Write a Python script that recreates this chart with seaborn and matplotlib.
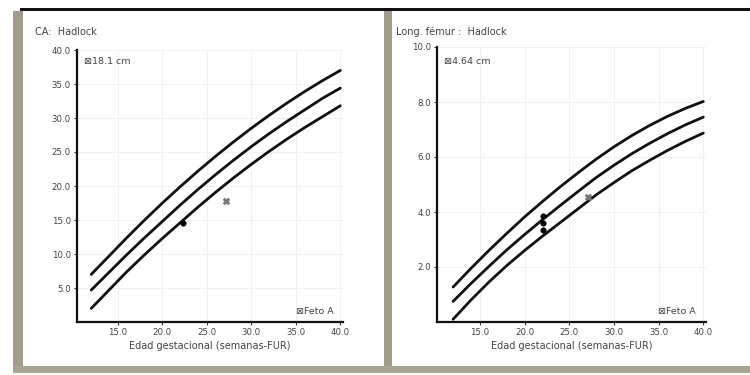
import matplotlib
matplotlib.use('Agg')
import matplotlib.pyplot as plt
from matplotlib.patches import Rectangle
import pandas as pd
import seaborn as sns

# Growth curves (weeks -> cm)
weeks = [12, 14, 16, 18, 20, 22, 24, 26, 28, 30, 32, 34, 36, 38, 40]

ac_hi = [7.0, 9.7, 12.4, 15.0, 17.5, 19.9, 22.2, 24.4, 26.5, 28.5, 30.4, 32.2, 33.9, 35.5, 37.0]
ac_mid = [4.7, 7.3, 9.9, 12.4, 14.8, 17.2, 19.5, 21.7, 23.8, 25.8, 27.7, 29.5, 31.2, 32.9, 34.4]
ac_lo = [2.0, 4.7, 7.4, 9.9, 12.3, 14.6, 16.9, 19.1, 21.2, 23.2, 25.1, 26.9, 28.6, 30.2, 31.8]

fl_hi = [1.27, 1.95, 2.60, 3.22, 3.82, 4.38, 4.92, 5.43, 5.92, 6.37, 6.78, 7.15, 7.48, 7.77, 8.02]
fl_mid = [0.75, 1.40, 2.02, 2.62, 3.18, 3.72, 4.24, 4.75, 5.25, 5.70, 6.12, 6.50, 6.85, 7.17, 7.45]
fl_lo = [0.10, 0.80, 1.45, 2.05, 2.60, 3.12, 3.62, 4.12, 4.62, 5.07, 5.50, 5.88, 6.24, 6.57, 6.87]

# measurements (previous exams = black, current = grey cross)
ac_prev_wk = [22.3]
ac_prev_val = [14.6]
ac_cur_wk = [27.2]
ac_cur_val = [17.8]

fl_prev_wk = [22.1, 22.1, 22.1]
fl_prev_val = [3.85, 3.6, 3.35]
fl_cur_wk = [27.1]
fl_cur_val = [4.55]

x_ticks = [15, 20, 25, 30, 35, 40]
ac_ticks = [5, 10, 15, 20, 25, 30, 35, 40]
fl_ticks = [2, 4, 6, 8, 10]

sns.set_style("white")
plt.rcParams['font.family'] = ['DejaVu Sans']

W, H = 750, 375
fig = plt.figure(figsize=(7.5, 3.75), dpi=100)
fig.patch.set_facecolor('white')


def rect(x0, y0, x1, y1, color):
    fig.add_artist(Rectangle((x0 / W, 1 - y1 / H), (x1 - x0) / W, (y1 - y0) / H,
                             transform=fig.transFigure, color=color, lw=0, zorder=0))


# window frame
rect(13, 11, 23, 373, '#a09e8a')
rect(384, 11, 392, 373, '#a09e8a')
rect(13, 366, 750, 373, '#a8a692')
rect(20, 8, 750, 11, '#111111')


def make_panel(left, right, top, bottom, xlim, ylim, yticks, curves, prev, cur,
               title, tag, tx, legx):
    ax = fig.add_axes([left / W, 1 - bottom / H, (right - left) / W, (bottom - top) / H])
    ax.set_facecolor('white')
    ax.patch.set_alpha(0)
    df = pd.DataFrame({'week': weeks * 3,
                       'val': curves[0] + curves[1] + curves[2],
                       'band': ['hi'] * len(weeks) + ['mid'] * len(weeks) + ['lo'] * len(weeks)})
    sns.lineplot(data=df, x='week', y='val', units='band', estimator=None,
                 color='#111111', lw=2.0, ax=ax, zorder=3)
    sns.scatterplot(x=prev[0], y=prev[1], color='black', s=16, marker='o',
                    edgecolor='black', ax=ax, zorder=4)
    sns.scatterplot(x=cur[0], y=cur[1], color='#777777', s=24, marker='X',
                    edgecolor='#777777', ax=ax, zorder=4)
    ax.set_xlim(*xlim)
    ax.set_ylim(*ylim)
    ax.set_xticks(x_ticks)
    ax.set_xticklabels([f"{t:.1f}" for t in x_ticks])
    ax.set_yticks(yticks)
    ax.set_yticklabels([f"{t:.1f}" for t in yticks])
    ax.tick_params(labelsize=6.2, length=2.5, width=0.8, color='#333333',
                   labelcolor='#444444', pad=2, direction='out', left=True, bottom=True)
    ax.grid(True, color='#f1f1f1', lw=0.8)
    for s in ['top', 'right']:
        ax.spines[s].set_visible(False)
    for s in ['left', 'bottom']:
        ax.spines[s].set_color('#111111')
        ax.spines[s].set_linewidth(1.6)
    ax.set_xlabel('Edad gestacional (semanas-FUR)', fontsize=7, color='#444444', labelpad=3)
    ax.set_ylabel('')
    fig.text(tx / W, 1 - 32 / H, title, fontsize=7, color='#444444', va='center')
    fig.text((left + 7) / W, 1 - 61 / H, '\u22a0' + tag, fontsize=6.8, color='#444444', va='center')
    fig.text(legx / W, 1 - 312 / H, '\u22a0Feto A', fontsize=6.8, color='#444444', va='center')
    return ax


make_panel(77, 343, 50, 322, (10.4, 40.3), (0, 40), ac_ticks,
           [ac_hi, ac_mid, ac_lo], (ac_prev_wk, ac_prev_val), (ac_cur_wk, ac_cur_val),
           'CA:  Hadlock', '18.1 cm', 35, 296)
make_panel(437, 706, 47, 322, (10.2, 40.3), (0, 10), fl_ticks,
           [fl_hi, fl_mid, fl_lo], (fl_prev_wk, fl_prev_val), (fl_cur_wk, fl_cur_val),
           'Long. f\u00e9mur :  Hadlock', '4.64 cm', 396, 658)

fig.savefig('out.png', dpi=100)
